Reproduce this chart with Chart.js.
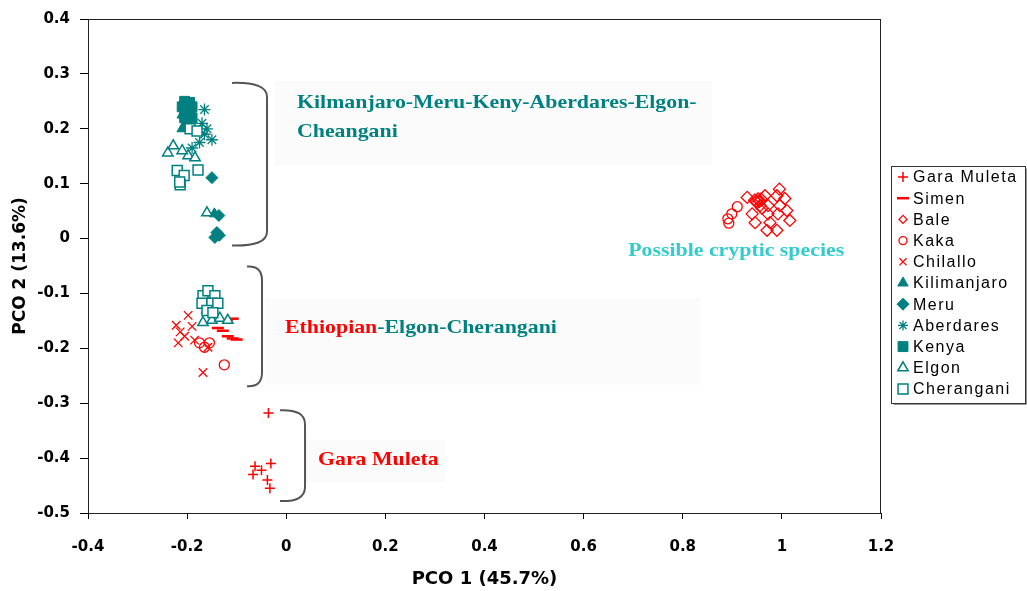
<!DOCTYPE html>
<html>
<head>
<meta charset="utf-8">
<script src="https://cdn.jsdelivr.net/npm/chart.js@4.4.1/dist/chart.umd.min.js"></script>
<style>
  html, body { margin: 0; padding: 0; background: #ffffff; }
  #wrap { width: 1027px; height: 591px; }
</style>
</head>
<body>
<div id="wrap"><canvas id="pco" width="1027" height="591"></canvas></div>
<script>
// Colours
const RED = '#FF0000';
const TEAL = '#008080';
const CYAN = '#33CCCC';

// PCO scores per population: [PCO 1, PCO 2]
const garaMuleta = [[-0.036,-0.318],[-0.063,-0.415],[-0.031,-0.41],[-0.067,-0.43],[-0.038,-0.44],[-0.033,-0.455],[-0.05,-0.422]];
const simen = [[-0.108,-0.146],[-0.12,-0.149],[-0.138,-0.163],[-0.128,-0.168],[-0.118,-0.178],[-0.108,-0.182],[-0.1,-0.184]];
const bale = [[0.930,0.075],[0.966,0.078],[0.990,0.078],[1.006,0.073],[0.995,0.09],[0.956,0.060],[0.972,0.060],[0.996,0.060],
              [1.010,0.051],[0.940,0.045],[0.972,0.045],[0.992,0.045],[1.016,0.033],[0.976,0.029],[0.946,0.029],[0.970,0.015],
              [0.990,0.015],[0.950,0.065],[0.960,0.055],[0.945,0.07],[0.948,0.068],[0.952,0.072],[0.955,0.068],[0.958,0.072]];
const kaka = [[0.891,0.036],[0.899,0.045],[0.91,0.058],[0.893,0.028],[-0.125,-0.23],[-0.175,-0.19],[-0.165,-0.198],[-0.155,-0.19]];
const chilallo = [[-0.198,-0.14],[-0.214,-0.17],[-0.218,-0.19],[-0.158,-0.198],[-0.168,-0.244],[-0.222,-0.158],[-0.205,-0.178],[-0.19,-0.16],[-0.185,-0.185]];
const kilimanjaro = [[-0.21,0.225],[-0.2,0.21],[-0.21,0.2],[-0.195,0.22],[-0.145,0.045]];
const meru = [[-0.15,0.111],[-0.14,0.011],[-0.144,0.002],[-0.136,0.042],[-0.135,0.006]];
const aberdares = [[-0.165,0.235],[-0.17,0.21],[-0.165,0.19],[-0.15,0.18],[-0.19,0.165],[-0.175,0.175],[-0.16,0.2]];
const kenya = [[-0.205,0.25],[-0.2,0.245],[-0.195,0.248],[-0.205,0.235],[-0.2,0.23],[-0.195,0.225],[-0.205,0.22],[-0.2,0.215],[-0.19,0.24],[-0.21,0.24],[-0.19,0.22]];
const elgon = [[-0.239,0.156],[-0.198,0.151],[-0.184,0.147],[-0.228,0.169],[-0.21,0.16],[-0.16,0.047],
               [-0.168,-0.153],[-0.15,-0.149],[-0.134,-0.145],[-0.118,-0.149],[-0.16,-0.13]];
const cherangani = [[-0.194,0.2],[-0.18,0.196],[-0.22,0.124],[-0.206,0.115],[-0.214,0.098],[-0.178,0.125],[-0.215,0.103],
                    [-0.168,-0.104],[-0.158,-0.095],[-0.144,-0.104],[-0.17,-0.118],[-0.15,-0.118],[-0.138,-0.118],[-0.16,-0.131],[-0.148,-0.135]];

// Axis ticks
const xTicks = [-0.4, -0.2, 0, 0.2, 0.4, 0.6, 0.8, 1, 1.2];
const xTickLabels = ['-0.4', '-0.2', '0', '0.2', '0.4', '0.6', '0.8', '1', '1.2'];
const yTicks = [-0.5, -0.4, -0.3, -0.2, -0.1, 0, 0.1, 0.2, 0.3, 0.4];
const yTickLabels = ['-0.5', '-0.4', '-0.3', '-0.2', '-0.1', '0', '0.1', '0.2', '0.3', '0.4'];

// Group labels placed in data units
const groupLabels = [
  { parts: [['Kilmanjaro-Meru-Keny-Aberdares-Elgon-', TEAL]], x: 0.0217, y: 0.247 },
  { parts: [['Cheangani', TEAL]], x: 0.0217, y: 0.195 },
  { parts: [['Ethiopian', RED], ['-Elgon-Cherangani', TEAL]], x: -0.0025, y: -0.1636 },
  { parts: [['Gara Muleta', RED]], x: 0.064, y: -0.4036 },
  { parts: [['Possible cryptic species', CYAN]], x: 0.690, y: -0.0218 }
];
// Faint panels behind the group labels: [x0, y0, x1, y1]
const labelPanels = [
  [-0.0227, 0.287, 0.859, 0.133],
  [-0.043, -0.109, 0.835, -0.267],
  [0.038, -0.367, 0.32, -0.444]
];
// Brackets enclosing each group: [xOpen, xSpine, yTop, yBottom]
const groupBrackets = [
  [-0.1094, -0.0388, 0.2836, -0.0127],
  [-0.0792, -0.0489, -0.0509, -0.2691],
  [-0.0126, 0.0379, -0.3127, -0.4782]
];

const series = [
  { label: 'Gara Muleta', pts: garaMuleta, style: 'cross',    r: 5, color: RED,  fill: 'rgba(0,0,0,0)', bw: 1.5, lr: 5 },
  { label: 'Simen',       pts: simen,      style: 'line',     r: 6, color: RED,  fill: 'rgba(0,0,0,0)', bw: 2.5, lr: 6 },
  { label: 'Bale',        pts: bale,       style: 'rectRot',  r: 6, color: RED,  fill: 'rgba(0,0,0,0)', bw: 1.3, lr: 4 },
  { label: 'Kaka',        pts: kaka,       style: 'circle',   r: 5, color: RED,  fill: 'rgba(0,0,0,0)', bw: 1.3, lr: 4 },
  { label: 'Chilallo',    pts: chilallo,   style: 'crossRot', r: 6, color: RED,  fill: 'rgba(0,0,0,0)', bw: 1.3, lr: 5 },
  { label: 'Kilimanjaro', pts: kilimanjaro,style: 'triangle', r: 6, color: TEAL, fill: TEAL,            bw: 1,   lr: 6 },
  { label: 'Meru',        pts: meru,       style: 'rectRot',  r: 6, color: TEAL, fill: TEAL,            bw: 1,   lr: 6 },
  { label: 'Aberdares',   pts: aberdares,  style: 'star',     r: 6, color: TEAL, fill: 'rgba(0,0,0,0)', bw: 1.3, lr: 5 },
  { label: 'Kenya',       pts: kenya,      style: 'rect',     r: 7, color: TEAL, fill: TEAL,            bw: 1,   lr: 7 },
  { label: 'Elgon',       pts: elgon,      style: 'triangle', r: 6, color: TEAL, fill: '#ffffff',       bw: 1.5, lr: 6 },
  { label: 'Cherangani',  pts: cherangani, style: 'rect',     r: 7, color: TEAL, fill: '#ffffff',       bw: 1.5, lr: 7 }
];

const datasets = series.map((s, i) => ({
  label: s.label,
  data: s.pts.map(([x, y]) => ({ x, y })),
  pointStyle: s.style,
  pointRadius: s.r,
  pointHoverRadius: s.r,
  borderColor: s.color,
  backgroundColor: s.fill,
  borderWidth: s.bw,
  order: series.length - i   // later series sit on top
}));

function pointMark(ctx, style, r, bw, x, y) {
  if (Chart.helpers && Chart.helpers.drawPoint) {
    Chart.helpers.drawPoint(ctx, { pointStyle: style, radius: r, borderWidth: bw, rotation: 0 }, x, y);
  }
}

const decor = {
  id: 'decor',
  beforeDatasetsDraw(chart) {
    const { ctx, scales: { x, y } } = chart;
    ctx.save();
    ctx.fillStyle = '#fbfbfb';
    labelPanels.forEach(([x0, y0, x1, y1]) => {
      const px0 = x.getPixelForValue(x0), px1 = x.getPixelForValue(x1);
      const py0 = y.getPixelForValue(y0), py1 = y.getPixelForValue(y1);
      ctx.fillRect(px0, py0, px1 - px0, py1 - py0);
    });
    ctx.restore();
  },
  afterDatasetsDraw(chart) {
    const { ctx, chartArea: a, scales: { x, y } } = chart;
    ctx.save();
    // plot frame
    ctx.strokeStyle = '#222';
    ctx.lineWidth = 1;
    ctx.strokeRect(a.left + 0.5, a.top + 0.5, a.right - a.left - 1, a.bottom - a.top);

    // brackets
    ctx.strokeStyle = '#555';
    ctx.lineWidth = 2;
    groupBrackets.forEach(([xo, xs, yt, yb]) => {
      const po = x.getPixelForValue(xo), ps = x.getPixelForValue(xs);
      const pt = y.getPixelForValue(yt), pb = y.getPixelForValue(yb);
      const c = 14;
      ctx.beginPath();
      ctx.moveTo(po, pt);
      ctx.quadraticCurveTo(ps, pt - 1, ps, pt + c);
      ctx.lineTo(ps, pb - c);
      ctx.quadraticCurveTo(ps, pb + 1, po, pb);
      ctx.stroke();
    });

    // group labels
    ctx.font = "bold 19.5px 'Liberation Serif', 'Times New Roman', serif";
    ctx.textBaseline = 'middle';
    ctx.textAlign = 'left';
    const sx = 1.12;
    groupLabels.forEach(g => {
      let px = x.getPixelForValue(g.x);
      const py = y.getPixelForValue(g.y);
      g.parts.forEach(([txt, col]) => {
        ctx.save();
        ctx.translate(px, py);
        ctx.scale(sx, 1);
        ctx.fillStyle = col;
        ctx.fillText(txt, 0, 0);
        ctx.restore();
        px += ctx.measureText(txt).width * sx;
      });
    });
    ctx.restore();
  },
  afterDraw(chart) {
    const { ctx, chartArea: a } = chart;
    const left = a.right + 10, top = 166, w = 134, h = 237;
    ctx.save();
    ctx.fillStyle = '#ffffff';
    ctx.fillRect(left, top, w, h);
    ctx.strokeStyle = '#999';
    ctx.lineWidth = 1;
    ctx.beginPath();
    ctx.moveTo(left + 2.5, top + h + 1.5); ctx.lineTo(left + w + 1.5, top + h + 1.5); ctx.lineTo(left + w + 1.5, top + 2.5);
    ctx.stroke();
    ctx.strokeStyle = '#333';
    ctx.strokeRect(left + 0.5, top + 0.5, w, h);

    const rowH = 21.2, y0 = top + 11;
    ctx.font = "16px 'Liberation Sans', Arial, sans-serif";
    try { ctx.letterSpacing = '1.5px'; } catch (e) {}
    ctx.textBaseline = 'middle';
    ctx.textAlign = 'left';
    series.forEach((s, i) => {
      const cy = y0 + i * rowH;
      ctx.strokeStyle = s.color;
      ctx.fillStyle = s.fill;
      ctx.lineWidth = s.bw;
      pointMark(ctx, s.style, s.lr, s.bw, left + 12, cy);
      ctx.fillStyle = '#000';
      ctx.fillText(s.label, left + 22, cy + 1);
    });
    ctx.restore();
  }
};

new Chart(document.getElementById('pco'), {
  type: 'scatter',
  data: { datasets },
  options: {
    responsive: false,
    animation: false,
    events: [],
    layout: { padding: { left: 8, right: 146, top: 18, bottom: 0 } },
    plugins: { legend: { display: false }, tooltip: { enabled: false } },
    scales: {
      x: {
        type: 'linear',
        min: -0.4, max: 1.2,
        afterBuildTicks: s => { s.ticks = xTicks.map(v => ({ value: v })); },
        afterFit: s => { s.height = 78; },
        ticks: {
          callback: (v, i) => xTickLabels[i],
          color: '#000',
          padding: 19,
          maxRotation: 0,
          autoSkip: false,
          font: { family: "'DejaVu Sans', sans-serif", weight: 'bold', size: 15 }
        },
        grid: { drawOnChartArea: false, drawTicks: true, tickLength: 6, color: '#000' },
        border: { display: true, color: '#000', width: 1 },
        title: {
          display: true,
          text: 'PCO 1 (45.7%)',
          color: '#000',
          padding: { top: 0, bottom: 1 },
          font: { family: "'DejaVu Sans', sans-serif", weight: 'bold', size: 18 }
        }
      },
      y: {
        type: 'linear',
        min: -0.5, max: 0.4,
        afterBuildTicks: s => { s.ticks = yTicks.map(v => ({ value: v })); },
        afterFit: s => { s.width = 80; },
        ticks: {
          callback: (v, i) => yTickLabels[i],
          color: '#000',
          padding: 10,
          autoSkip: false,
          font: { family: "'DejaVu Sans', sans-serif", weight: 'bold', size: 15 }
        },
        grid: { drawOnChartArea: false, drawTicks: true, tickLength: 8, color: '#000' },
        border: { display: true, color: '#000', width: 1 },
        title: {
          display: true,
          text: 'PCO 2 (13.6%)',
          color: '#000',
          padding: { top: 2, bottom: 0 },
          font: { family: "'DejaVu Sans', sans-serif", weight: 'bold', size: 17 }
        }
      }
    }
  },
  plugins: [decor]
});
</script>
</body>
</html>
